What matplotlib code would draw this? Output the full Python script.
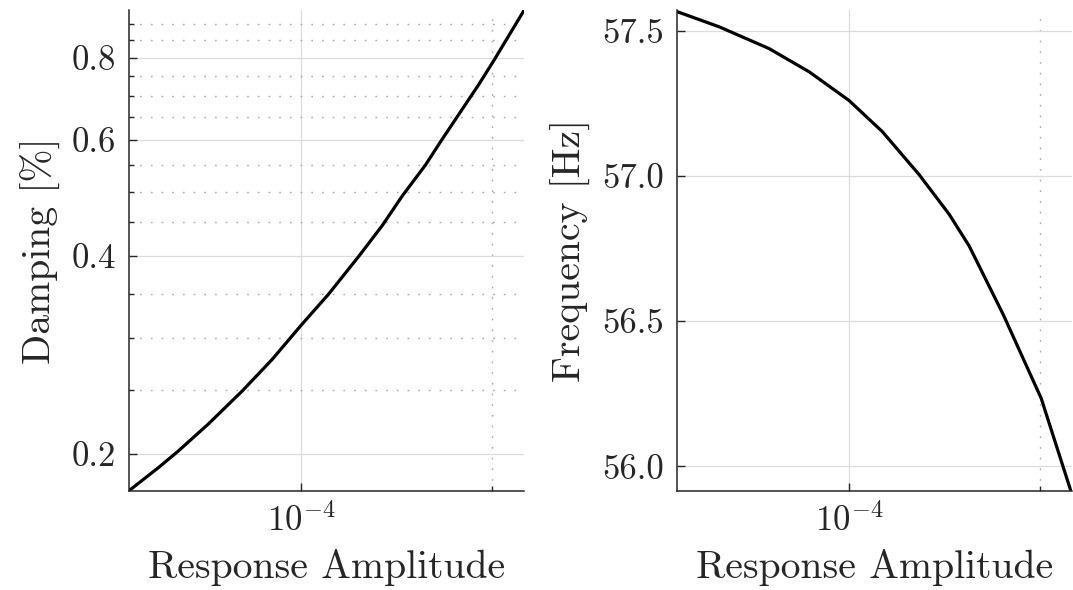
import matplotlib
matplotlib.use('Agg')
import matplotlib.pyplot as plt
from matplotlib.ticker import FixedLocator, FixedFormatter, NullFormatter

plt.rcParams['font.family'] = 'cmr10'
plt.rcParams['mathtext.fontset'] = 'cm'
plt.rcParams['axes.formatter.use_mathtext'] = True
plt.rcParams['axes.unicode_minus'] = False

# values
amp_damp = [5.355e-5, 5.955e-5, 6.404e-5, 7.143e-5, 8.06e-5, 8.99e-5, 1.0e-4,
            1.104e-4, 1.231e-4, 1.341e-4, 1.442e-4, 1.569e-4, 1.657e-4,
            1.905e-4, 2.011e-4, 2.241e-4]
damping = [0.176, 0.1907, 0.2022, 0.2223, 0.249, 0.2782, 0.314, 0.3498, 0.399,
           0.4445, 0.493, 0.5495, 0.596, 0.7288, 0.792, 0.942]

amp_freq = [5.33e-5, 6.24e-5, 7.48e-5, 8.65e-5, 1.0e-4, 1.128e-4, 1.289e-4,
            1.438e-4, 1.546e-4, 1.750e-4, 2.008e-4, 2.236e-4]
frequency = [57.568, 57.514, 57.439, 57.359, 57.260, 57.153, 57.005, 56.868,
             56.759, 56.522, 56.234, 55.915]

damp_major = [0.2, 0.4, 0.6, 0.8]
damp_minor = [0.25, 0.3, 0.35, 0.45, 0.5, 0.55, 0.65, 0.7, 0.75, 0.85, 0.9]
freq_ticks = [56.0, 56.5, 57.0, 57.5]
amp_major = [1e-4]
amp_minor = [2e-4]

axcol = '#262626'
tick_fs = 25
label_fs = 28.6

fig = plt.figure(figsize=(10.73, 5.90), dpi=100)
ax1 = fig.add_axes([0.1202, 0.1678, 0.3680, 0.8153])
ax2 = fig.add_axes([0.6307, 0.1678, 0.3680, 0.8153])


def style(ax):
    for s in ['top', 'right']:
        ax.spines[s].set_visible(False)
    for s in ['left', 'bottom']:
        ax.spines[s].set_color(axcol)
        ax.spines[s].set_linewidth(1.1)
    ax.tick_params(which='both', direction='in', colors=axcol,
                   labelsize=tick_fs, pad=9, width=1.0)
    ax.tick_params(which='major', length=6)
    ax.tick_params(which='minor', length=3.5)
    ax.grid(True, which='major', color='#dcdcdc', linewidth=0.9)
    ax.grid(True, which='minor', color='#a8a8a8', linewidth=1.0,
            linestyle=(0, (1.2, 6.5)))
    ax.set_axisbelow(True)
    ax.set_xscale('log')
    ax.xaxis.set_major_locator(FixedLocator(amp_major))
    ax.xaxis.set_major_formatter(FixedFormatter([r'$10^{-4}$']))
    ax.xaxis.set_minor_locator(FixedLocator(amp_minor))
    ax.xaxis.set_minor_formatter(NullFormatter())
    ax.set_xlim(5.35e-5, 2.242e-4)
    ax.set_xlabel('Response Amplitude', fontsize=label_fs, color=axcol,
                  labelpad=8)


# damping
ax1.plot(amp_damp, damping, color='black', linewidth=2.3)
style(ax1)
ax1.set_yscale('log')
ax1.yaxis.set_major_locator(FixedLocator(damp_major))
ax1.yaxis.set_major_formatter(FixedFormatter(['0.2', '0.4', '0.6', '0.8']))
ax1.yaxis.set_minor_locator(FixedLocator(damp_minor))
ax1.yaxis.set_minor_formatter(NullFormatter())
ax1.set_ylim(0.1757, 0.945)
ax1.set_ylabel('Damping [%]', fontsize=label_fs, color=axcol, labelpad=8)

# frequency
ax2.plot(amp_freq, frequency, color='black', linewidth=2.3)
style(ax2)
ax2.yaxis.set_major_locator(FixedLocator(freq_ticks))
ax2.yaxis.set_major_formatter(FixedFormatter(['56.0', '56.5', '57.0', '57.5']))
ax2.set_ylim(55.915, 57.572)
ax2.set_ylabel('Frequency [Hz]', fontsize=label_fs, color=axcol, labelpad=8)

fig.savefig('out.png', dpi=100)
